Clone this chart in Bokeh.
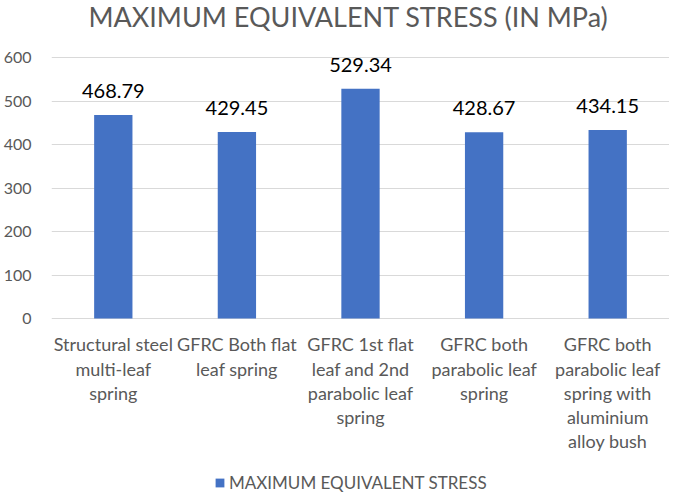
from bokeh.plotting import figure
from bokeh.models import Range1d, Legend, LegendItem, ColumnDataSource, FixedTicker, Label
from bokeh.core.properties import value
from bokeh.embed import file_html
from bokeh.resources import INLINE

categories = [
    "Structural steel\nmulti-leaf\nspring",
    "GFRC Both flat\nleaf spring",
    "GFRC 1st flat\nleaf and 2nd\nparabolic leaf\nspring",
    "GFRC both\nparabolic leaf\nspring",
    "GFRC both\nparabolic leaf\nspring with\naluminium\nalloy bush",
]
stress = [468.79, 429.45, 529.34, 428.67, 434.15]
y_ticks = [0, 100, 200, 300, 400, 500, 600]
series_name = "MAXIMUM EQUIVALENT STRESS"
title_text = "MAXIMUM EQUIVALENT STRESS (IN MPa)"

FONT = "Lato"
xs = list(range(len(categories)))
src = ColumnDataSource(dict(x=xs, top=stress, base=[0] * len(xs), cat=categories,
                            lab=[f"{v:.2f}" for v in stress]))

p = figure(width=669, height=494, output_backend="svg", toolbar_location=None,
           x_range=Range1d(-0.5, 4.5), y_range=Range1d(-405.4, 732.4),
           min_border_left=39, min_border_right=0, min_border_top=0, min_border_bottom=0)
p.outline_line_color = None
p.background_fill_color = "white"
p.border_fill_color = "white"

p.xgrid.visible = False
p.ygrid.ticker = FixedTicker(ticks=y_ticks)
p.ygrid.grid_line_color = "#d9d9d9"
p.ygrid.grid_line_width = 1

r = p.vbar(x="x", top="top", width=0.31, source=src, fill_color="#4472C4", line_color=None)
p.text(x="x", y="top", text="lab", source=src, text_align="center", text_baseline="alphabetic",
       y_offset=-24, text_font_size="20px", text_color="#000000", text_font=value(FONT))
p.text(x="x", y="base", text="cat", source=src, text_align="center", text_baseline="top",
       y_offset=15, text_font_size="18px", text_color="#595959", text_font=value(FONT),
       text_line_height=1.1)

title = Label(x=297, y=478, x_units="screen", y_units="screen", text=title_text,
              text_align="center", text_baseline="alphabetic", text_font=FONT,
              text_font_size="27px", text_color="#595959")
p.add_layout(title)

p.yaxis.ticker = FixedTicker(ticks=y_ticks)
p.yaxis.axis_line_color = None
p.yaxis.major_tick_line_color = None
p.yaxis.minor_tick_line_color = None
p.yaxis.major_label_standoff = 14
p.yaxis.major_label_text_font = FONT
p.yaxis.major_label_text_font_size = "16px"
p.yaxis.major_label_text_color = "#595959"
p.xaxis.visible = False

legend = Legend(items=[LegendItem(label=series_name, renderers=[r])], location=(163, 1),
                glyph_width=11, glyph_height=11, label_height=11, label_standoff=4,
                padding=0, margin=0, border_line_color=None, background_fill_alpha=0,
                label_text_font=FONT, label_text_font_size="17px", label_text_color="#595959")
p.add_layout(legend)

open("out.html", "w").write(file_html(p, INLINE))
